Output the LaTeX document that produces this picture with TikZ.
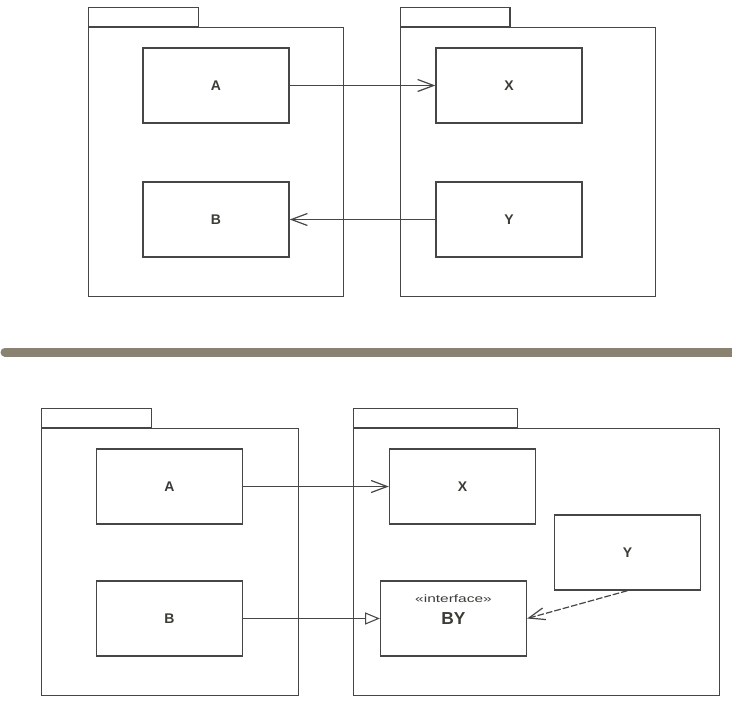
\documentclass[tikz,border=0pt]{standalone}
\usepackage{fontspec}
\setmainfont{Liberation Sans}
\usetikzlibrary{arrows.meta}
\definecolor{ln}{RGB}{70,70,70}
\definecolor{tx}{RGB}{60,60,55}
\definecolor{divc}{RGB}{138,130,112}
\tikzset{
  cls/.style={draw=ln, line width=1pt, rectangle, inner sep=0pt, minimum width=109.5pt, minimum height=56.25pt, font=\fontsize{10.5}{13}\selectfont\bfseries, text=tx},
  pkg/.style={draw=ln, line width=1pt, rectangle, inner sep=0pt, anchor=north west},
  pkgtab/.style={draw=ln, line width=1pt, rectangle, inner sep=0pt, anchor=south west, minimum height=14.25pt},
  dep/.style={draw=ln, line width=0.9pt, -{Straight Barb[length=12pt,width=9pt]}},
  realize/.style={draw=ln, line width=0.8pt, -{Triangle[open,length=11pt,width=9pt]}},
  usedep/.style={dep, dash pattern=on 5pt off 1.5pt},
  stereo/.style={font=\fontsize{8}{9}\selectfont, text=tx}
}
\begin{document}
\begin{tikzpicture}[x=0.75pt,y=-0.75pt]
\useasboundingbox (0,0) rectangle (732,706);
\fill[white] (0,0) rectangle (732,706);

% ---------- top packages ----------
\node[pkg, minimum width=191.25pt, minimum height=201.75pt] (tlp) at (88,27) {};
\node[pkgtab, minimum width=82.5pt] (tlt) at (tlp.north west) {};
\node[pkg, minimum width=191.25pt, minimum height=201.75pt] (trp) at (400,27) {};
\node[pkgtab, minimum width=82pt] (trt) at (trp.north west) {};

\node[cls] (tA) at (216,85.5) {A};
\node[cls] (tX) at (509,85.5) {X};
\node[cls] (tB) at (216,219.5) {B};
\node[cls] (tY) at (509,219.5) {Y};

\draw[dep] (tA.east) -- (tX.west);
\draw[dep] (tY.west) -- (tB.east);

% ---------- divider ----------
\coordinate (dl) at (5,352);
\coordinate (dr) at (740,352);
\draw[divc, line width=6.75pt, line cap=round] (dl) -- (dr);

% ---------- bottom packages ----------
\node[pkg, minimum width=192.75pt, minimum height=200.25pt] (blp) at (41,428) {};
\node[pkgtab, minimum width=82.5pt] (blt) at (blp.north west) {};
\node[pkg, minimum width=274.5pt, minimum height=200.25pt] (brp) at (353,428) {};
\node[pkgtab, minimum width=123pt] (brt) at (brp.north west) {};

\node[cls] (bA) at (169.5,486.5) {A};
\node[cls] (bX) at (462.5,486.5) {X};
\node[cls] (bB) at (169.5,618.5) {B};
\node[cls, label={[stereo, yshift=14.6pt]center:\scalebox{1.45}[1]{«interface»}}] (bBY) at (453.5,618.5) {\fontsize{13}{15}\selectfont\bfseries BY};
\node[cls] (bY) at (627.5,552.5) {Y};

\draw[dep] (bA.east) -- (bX.west);
\draw[realize] (bB.east) -- (bBY.west);
\draw[usedep] (bY.south) -- (bBY.east);
\end{tikzpicture}
\end{document}
